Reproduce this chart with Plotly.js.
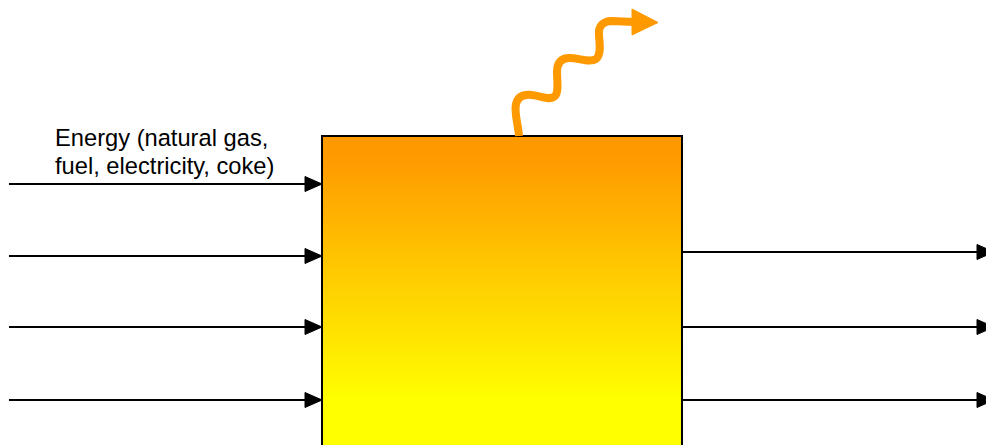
<!DOCTYPE html>
<html>
<head>
<meta charset="utf-8">
<script src="https://cdn.plot.ly/plotly-3.0.1.min.js"></script>
<style>html,body{margin:0;padding:0;background:#fff;}#chart{width:986px;height:445px;}</style>
</head>
<body>
<div id="chart"></div>
<script>
// Diagram content
const labelLines = ["Energy (natural gas,", "fuel, electricity, coke)"];
const inputArrowRows = [184, 256, 327, 400];   // left incoming arrows
const outputArrowRows = [252, 327, 400];       // right outgoing arrows
const gradientColors = ["#FF9900", "#FFFF00"]; // top -> bottom of box

// Geometry (pixel space)
const W = 986, H = 445;
const box = {x0: 322, x1: 682, y0: 136, y1: 470};
const yellowFrom = 400; // gradient reaches full yellow here

// gradient via heatmap
const yEdges = [], zRows = [];
for (let y = box.y0; y <= H; y += 1) yEdges.push(y);
for (let i = 0; i < yEdges.length - 1; i++) zRows.push([yEdges[i]]);
const stop = (yellowFrom - box.y0) / (H - box.y0);

const traces = [{
  type: 'heatmap',
  x: [box.x0, box.x1],
  y: yEdges,
  z: zRows,
  zmin: box.y0, zmax: H,
  colorscale: [[0, gradientColors[0]], [0.06, gradientColors[0]], [stop, gradientColors[1]], [1, gradientColors[1]]],
  showscale: false,
  hoverinfo: 'skip'
}];

const shapes = [];
const lineStyle = {color: '#000', width: 2};
function arrow(xStart, xTip, y) {
  const hl = 17, hw = 7.5;
  shapes.push({type: 'line', xref: 'x', yref: 'y', x0: xStart, x1: xTip - hl + 1, y0: y, y1: y, line: lineStyle, layer: 'above'});
  shapes.push({type: 'path', xref: 'x', yref: 'y',
    path: `M ${xTip - hl} ${y - hw} L ${xTip} ${y} L ${xTip - hl} ${y + hw} Z`,
    fillcolor: '#000', line: {color: '#000', width: 1}, layer: 'above'});
}
inputArrowRows.forEach(y => arrow(9, box.x0, y));
outputArrowRows.forEach(y => arrow(box.x1, 994, y));

// box border
shapes.push({type: 'rect', xref: 'x', yref: 'y', x0: box.x0, x1: box.x1, y0: box.y0, y1: box.y1,
  line: {color: '#000', width: 2}, fillcolor: 'rgba(0,0,0,0)', layer: 'above'});

// wavy heat arrow
shapes.push({type: 'path', xref: 'x', yref: 'y', layer: 'above',
  path: 'M 519 136 C 518 124, 514 112, 516 104 C 518 96, 524 94, 532 95 C 542 96, 550 101, 555 96 C 559 92, 557 80, 557 72 C 557 63, 561 58, 569 58 C 579 58, 590 63, 596 59 C 601 55, 600 45, 599 36 C 598 27, 602 21, 612 21 L 634 22',
  line: {color: '#FF9900', width: 8}, fillcolor: 'rgba(0,0,0,0)'});
shapes.push({type: 'path', xref: 'x', yref: 'y', layer: 'above',
  path: 'M 632 9 L 658 22.5 L 632 35 Z', fillcolor: '#FF9900', line: {color: '#FF9900', width: 1}});

const annotations = [
  {x: 53, y: 137.5, text: labelLines[0]},
  {x: 53, y: 166, text: labelLines[1]}
].map(a => Object.assign(a, {xref: 'x', yref: 'y', xanchor: 'left', yanchor: 'middle', showarrow: false,
  font: {family: 'Liberation Sans, Arial, sans-serif', size: 23.7, color: '#000'}}));

const layout = {
  width: W, height: H,
  margin: {l: 0, r: 0, t: 0, b: 0, pad: 0},
  paper_bgcolor: '#fff', plot_bgcolor: '#fff',
  xaxis: {range: [0, W], visible: false, fixedrange: true},
  yaxis: {range: [H, 0], visible: false, fixedrange: true},
  shapes: shapes,
  annotations: annotations,
  showlegend: false
};
Plotly.newPlot('chart', traces, layout, {staticPlot: true, displayModeBar: false});
</script>
</body>
</html>
